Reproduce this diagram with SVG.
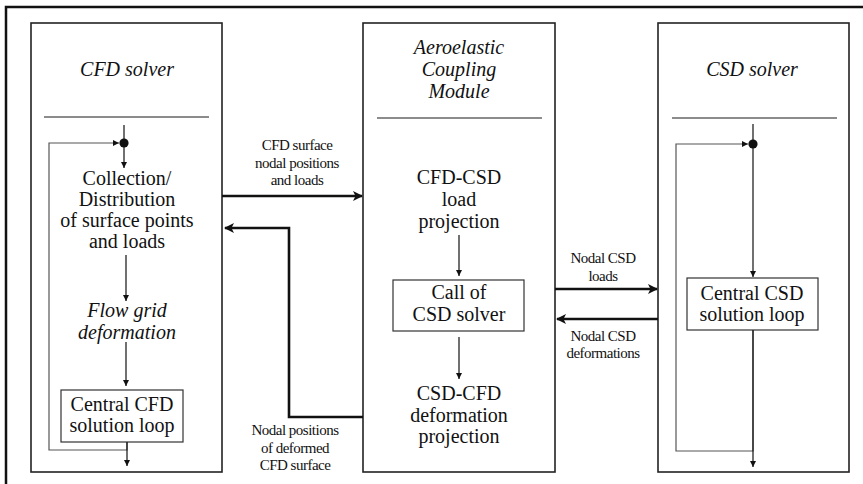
<svg xmlns="http://www.w3.org/2000/svg" width="863" height="484" viewBox="0 0 863 484">
<defs>
<marker id="sa" viewBox="0 0 10 10" refX="10" refY="5" markerWidth="6" markerHeight="6" markerUnits="userSpaceOnUse" orient="auto"><path d="M0,0 L10,5 L0,10 z" fill="#111"/></marker>
<marker id="ba" viewBox="0 0 10 10" refX="9" refY="5" markerWidth="11" markerHeight="10" markerUnits="userSpaceOnUse" orient="auto"><path d="M0,0 L10,5 L0,10 L2.5,5 z" fill="#111"/></marker>
</defs>
<style>
.frame{fill:none;stroke:#111;stroke-width:2.5}
.box{fill:none;stroke:#222;stroke-width:1.6}
.ibox{fill:none;stroke:#333;stroke-width:1.2}
.sep{stroke:#666;stroke-width:1.3}
.loop{fill:none;stroke:#555;stroke-width:1.2}
.thin{fill:none;stroke:#111;stroke-width:1.2}
.thick{fill:none;stroke:#111;stroke-width:2.6}
.t,.ti,.s{font-family:"Liberation Serif",serif;fill:#111;text-anchor:middle}
.t{font-size:20px;font-style:normal}
.ti{font-size:20px;font-style:italic}
.s{font-size:15px;letter-spacing:-0.5px}
</style>
<rect class="frame" x="6" y="7" width="880" height="500"/>
<g id="cfd-solver" font-family="Liberation Serif, serif">
<rect class="box" x="31" y="23" width="191" height="449"/>
<text class="ti" x="127" y="76">CFD solver</text>
<line class="sep" x1="44" y1="117" x2="209" y2="117"/>
<text class="t" x="127" y="185">Collection/</text>
<text class="t" x="127" y="206">Distribution</text>
<text class="t" x="127" y="227">of surface points</text>
<text class="t" x="127" y="248">and loads</text>
<text class="ti" x="127" y="317">Flow grid</text>
<text class="ti" x="127" y="339">deformation</text>
</g>
<g id="central-cfd" font-family="Liberation Serif, serif">
<rect class="ibox" x="61" y="390" width="122" height="52"/>
<text class="t" x="122" y="411">Central CFD</text>
<text class="t" x="122" y="432">solution loop</text>
</g>
<g id="coupling-module" font-family="Liberation Serif, serif">
<rect class="box" x="363" y="23" width="192" height="449"/>
<text class="ti" x="459" y="54">Aeroelastic</text>
<text class="ti" x="459" y="76">Coupling</text>
<text class="ti" x="459" y="98">Module</text>
<line class="sep" x1="377" y1="118" x2="542" y2="118"/>
<text class="t" x="459" y="184">CFD-CSD</text>
<text class="t" x="459" y="206">load</text>
<text class="t" x="459" y="228">projection</text>
<text class="t" x="459" y="400">CSD-CFD</text>
<text class="t" x="459" y="422">deformation</text>
<text class="t" x="459" y="443">projection</text>
</g>
<g id="call-csd" font-family="Liberation Serif, serif">
<rect class="ibox" x="393" y="280" width="131" height="51"/>
<text class="t" x="459" y="299">Call of</text>
<text class="t" x="459" y="321">CSD solver</text>
</g>
<g id="csd-solver" font-family="Liberation Serif, serif">
<rect class="box" x="658" y="23" width="191" height="449"/>
<text class="ti" x="752" y="76">CSD solver</text>
<line class="sep" x1="672" y1="118" x2="837" y2="118"/>
</g>
<g id="central-csd" font-family="Liberation Serif, serif">
<rect class="ibox" x="687" y="278" width="131" height="52"/>
<text class="t" x="752" y="300">Central CSD</text>
<text class="t" x="752" y="321">solution loop</text>
</g>
<g id="connectors" font-family="Liberation Serif, serif">
<line class="thin" x1="124" y1="125" x2="124" y2="143"/>
<circle cx="124" cy="143" r="4.6" fill="#111"/>
<line class="thin" x1="124" y1="143" x2="124" y2="168" marker-end="url(#sa)"/>
<polyline class="loop" points="127,442 127,450 49,450 49,143 119,143" marker-end="url(#sa)"/>
<line class="thin" x1="126" y1="255" x2="126" y2="301" marker-end="url(#sa)"/>
<line class="thin" x1="126" y1="342" x2="126" y2="386" marker-end="url(#sa)"/>
<line class="thin" x1="127" y1="442" x2="127" y2="466" marker-end="url(#sa)"/>
<line class="thin" x1="459" y1="235" x2="459" y2="276" marker-end="url(#sa)"/>
<line class="thin" x1="459" y1="337" x2="459" y2="379" marker-end="url(#sa)"/>
<line class="thin" x1="753" y1="124" x2="753" y2="144"/>
<circle cx="753" cy="144" r="4.6" fill="#111"/>
<line class="thin" x1="753" y1="144" x2="753" y2="277" marker-end="url(#sa)"/>
<polyline class="loop" points="753,330 753,451 676,451 676,144 748,144" marker-end="url(#sa)"/>
<line class="thin" x1="753" y1="330" x2="753" y2="467" marker-end="url(#sa)"/>
<line class="thick" x1="222" y1="196" x2="362" y2="196" marker-end="url(#ba)"/>
<polyline class="thick" points="363,417 289,417 289,228 225,228" marker-end="url(#ba)"/>
<line class="thick" x1="555" y1="289" x2="657" y2="289" marker-end="url(#ba)"/>
<line class="thick" x1="658" y1="319" x2="557" y2="319" marker-end="url(#ba)"/>
<text class="s" x="297" y="150">CFD surface</text>
<text class="s" x="297" y="168">nodal positions</text>
<text class="s" x="297" y="185">and loads</text>
<text class="s" x="295" y="435">Nodal positions</text>
<text class="s" x="295" y="453">of deformed</text>
<text class="s" x="295" y="470">CFD surface</text>
<text class="s" x="603" y="263">Nodal CSD</text>
<text class="s" x="603" y="281">loads</text>
<text class="s" x="603" y="341">Nodal CSD</text>
<text class="s" x="603" y="358">deformations</text>
</g>
</svg>
